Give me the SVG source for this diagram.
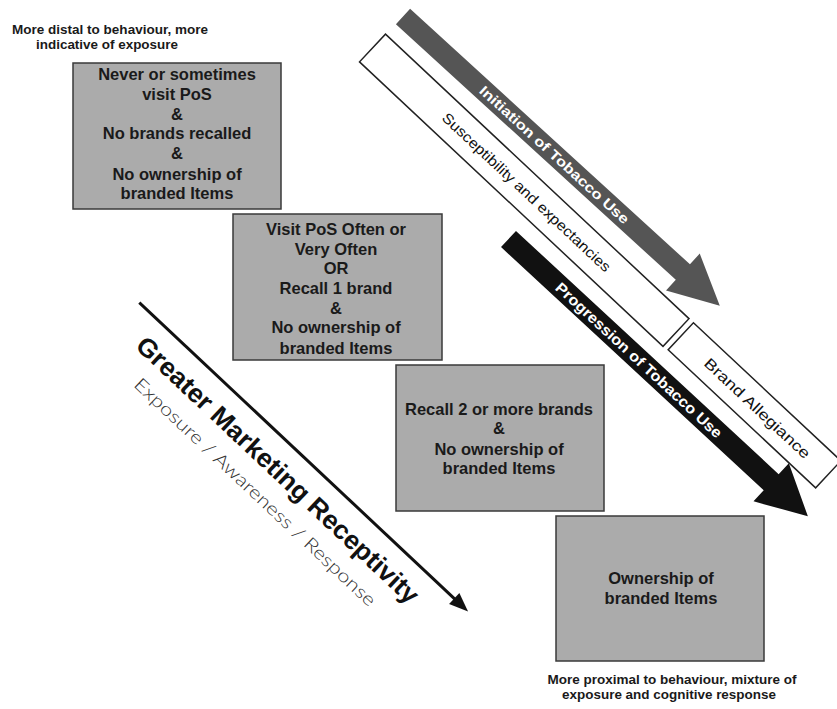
<svg xmlns="http://www.w3.org/2000/svg" width="837" height="709" viewBox="0 0 837 709">
<style>
.box{fill:#ababab;stroke:#3a3a3a;stroke-width:1.5}
.bt{font-family:"Liberation Sans",Arial,sans-serif;font-weight:bold;font-size:16.5px;fill:#1a1a1a;text-anchor:middle}
.note{font-family:"Liberation Sans",Arial,sans-serif;font-weight:bold;font-size:13px;fill:#1a1a1a;text-anchor:middle}
.band{fill:#ffffff;stroke:#222;stroke-width:1.5}
.bandt{font-family:"Liberation Sans",Arial,sans-serif;font-size:14.5px;fill:#111;text-anchor:middle}
.arrt{font-family:"Liberation Sans",Arial,sans-serif;font-weight:bold;fill:#ffffff;text-anchor:middle}
</style>
<rect width="837" height="709" fill="#ffffff"/>

<g id="note-top">
<text class="note" x="110" y="34" textLength="196" lengthAdjust="spacingAndGlyphs">More distal to behaviour, more</text>
<text class="note" x="107" y="49" textLength="142" lengthAdjust="spacingAndGlyphs">indicative of exposure</text>
</g>

<g id="note-bottom">
<text class="note" x="672" y="684" textLength="249" lengthAdjust="spacingAndGlyphs">More proximal to behaviour, mixture of</text>
<text class="note" x="669" y="699" textLength="214" lengthAdjust="spacingAndGlyphs">exposure and cognitive response</text>
</g>

<g id="band-susceptibility" transform="translate(372.5,48) rotate(43.15)">
<rect class="band" x="0" y="-19" width="416" height="38"/>
<text class="bandt" x="211" y="5" textLength="225" lengthAdjust="spacingAndGlyphs">Susceptibility and expectancies</text>
</g>

<g id="band-allegiance" transform="translate(680.8,336.3) rotate(43.1)">
<rect class="band" x="0" y="-18.5" width="202" height="37"/>
<text class="bandt" x="105" y="5.5" style="font-size:15px" textLength="139" lengthAdjust="spacingAndGlyphs">Brand Allegiance</text>
</g>

<g id="connectors">
<g id="arrow-initiation" transform="translate(403,16.5) rotate(42.4)">
<polygon points="0,-10.5 379,-10.5 379,-25 429,0 379,25 379,10.5 0,10.5" fill="#555555"/>
<text class="arrt" x="205" y="5" style="font-size:14px" textLength="197" lengthAdjust="spacingAndGlyphs">Initiation of Tobacco Use</text>
</g>
<g id="arrow-progression" transform="translate(508.5,239) rotate(42.8)">
<polygon points="0,-11 358,-11 358,-26 408,0 358,26 358,11 0,11" fill="#111111"/>
<text class="arrt" x="178" y="5.5" style="font-size:15px" textLength="221" lengthAdjust="spacingAndGlyphs">Progression of Tobacco Use</text>
</g>
<g id="arrow-receptivity" transform="translate(139.3,302.7) rotate(43.2)">
<line x1="0" y1="0" x2="434" y2="0" stroke="#111" stroke-width="3"/>
<polygon points="432,-7.5 451,0 432,7.5" fill="#111"/>
<text x="27" y="36" font-family="'Liberation Sans',Arial,sans-serif" font-weight="bold" font-size="26" fill="#111" textLength="377" lengthAdjust="spacingAndGlyphs">Greater Marketing Receptivity</text>
<text x="52" y="65" font-family="Lato,'Liberation Sans',sans-serif" font-weight="300" font-size="18" fill="#333" textLength="324" lengthAdjust="spacingAndGlyphs">Exposure / Awareness / Response</text>
</g>
</g>

<g id="box1">
<rect class="box" x="73" y="63" width="208" height="146"/>
<text class="bt" x="177" y="80">Never or sometimes</text>
<text class="bt" x="177" y="100">visit PoS</text>
<text class="bt" x="177" y="120">&amp;</text>
<text class="bt" x="177" y="139">No brands recalled</text>
<text class="bt" x="177" y="159">&amp;</text>
<text class="bt" x="177" y="180">No ownership of</text>
<text class="bt" x="177" y="199">branded Items</text>
</g>

<g id="box2">
<rect class="box" x="233" y="214" width="209" height="146"/>
<text class="bt" x="336" y="235">Visit PoS Often or</text>
<text class="bt" x="336" y="255">Very Often</text>
<text class="bt" x="336" y="274">OR</text>
<text class="bt" x="336" y="294">Recall 1 brand</text>
<text class="bt" x="336" y="314">&amp;</text>
<text class="bt" x="336" y="333">No ownership of</text>
<text class="bt" x="336" y="354">branded Items</text>
</g>

<g id="box3">
<rect class="box" x="396" y="365" width="208" height="146"/>
<text class="bt" x="499" y="415">Recall 2 or more brands</text>
<text class="bt" x="499" y="434">&amp;</text>
<text class="bt" x="499" y="455">No ownership of</text>
<text class="bt" x="499" y="474">branded Items</text>
</g>

<g id="box4">
<rect class="box" x="556" y="516" width="208" height="145"/>
<text class="bt" x="661" y="584">Ownership of</text>
<text class="bt" x="661" y="604">branded Items</text>
</g>
</svg>
